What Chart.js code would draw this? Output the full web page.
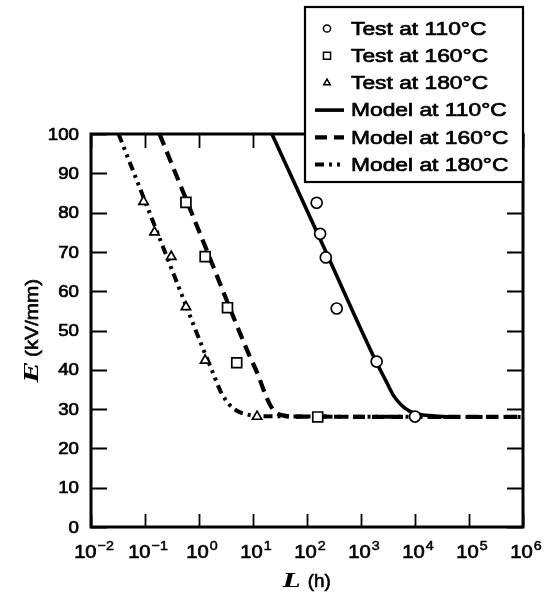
<!DOCTYPE html>
<html>
<head>
<meta charset="utf-8">
<script src="https://cdn.jsdelivr.net/npm/chart.js@4/dist/chart.umd.min.js"></script>
<style>
  html, body { margin: 0; padding: 0; background: #fff; }
  #wrap { width: 549px; height: 603px; }
</style>
</head>
<body>
<div id="wrap"><canvas id="chart" width="549" height="603"></canvas></div>
<script>
// tick values
const xTickExps = [-2, -1, 0, 1, 2, 3, 4, 5, 6];
const yTicks = [0, 10, 20, 30, 40, 50, 60, 70, 80, 90, 100];

// test data (L in h, E in kV/mm)
const lTest110 = [151, 175, 223, 355, 1950, 10000];
const eTest110 = [82.5, 74.6, 68.6, 55.6, 42.1, 28.1];
const lTest160 = [0.573, 1.30, 3.37, 5.0, 158];
const eTest160 = [82.6, 68.8, 55.8, 41.8, 28.0];
const lTest180 = [0.094, 0.150, 0.306, 0.573, 1.30, 11.9];
const eTest180 = [82.8, 75.0, 68.8, 56.0, 42.4, 28.1];

// model curves
const lModel110 = [22.4, 200, 1995, 2818, 3981, 5623, 7943, 12590, 25120, 40000];
const eModel110 = [100, 71.5, 41.5, 37.5, 33.5, 31.0, 29.5, 28.6, 28.2, 28.05];
const lModel160 = [0.186, 1.0, 7.94, 12.6, 16.6, 20.9, 26.3, 35.5, 63.1, 1000000];
const eModel160 = [100, 75.3, 44.7, 38.5, 34.0, 31.0, 29.2, 28.4, 28.1, 28.0];
const lModel180 = [0.0324, 0.2, 1.26, 1.78, 2.51, 3.55, 5.01, 7.94, 15.8, 1000000];
const eModel180 = [100, 72.4, 44.5, 39.5, 34.5, 31.3, 29.6, 28.6, 28.2, 28.0];

const labels = ['Test at 110°C', 'Test at 160°C', 'Test at 180°C',
  'Model at 110°C', 'Model at 160°C', 'Model at 180°C'];

const toXY = (xs, ys) => xs.map((x, i) => ({ x: x, y: ys[i] }));

const testSet = (label, xs, ys, style, r, lr) => ({
  label: label,
  data: toXY(xs, ys),
  showLine: false,
  pointStyle: style,
  pointRadius: r,
  pointBorderWidth: 1.7,
  pointBorderColor: '#000',
  pointBackgroundColor: '#fff',
  legendRadius: lr
});

const modelSet = (label, xs, ys, dash, w) => ({
  label: label,
  data: toXY(xs, ys),
  borderColor: '#000',
  borderWidth: w,
  borderDash: dash,
  borderCapStyle: 'butt',
  pointRadius: 0,
  cubicInterpolationMode: 'monotone',
  fill: false
});

// draws text stretched horizontally, with a thin stroke to thicken it
const drawText = (ctx, text, x, y, font, sx, align, heavy) => {
  ctx.save();
  ctx.font = font;
  ctx.translate(x, y);
  ctx.scale(sx, 1);
  ctx.textAlign = align || 'left';
  ctx.fillText(text, 0, 0);
  if (heavy) {
    ctx.lineWidth = heavy;
    ctx.strokeStyle = '#000';
    ctx.strokeText(text, 0, 0);
  }
  ctx.restore();
};
const textWidth = (ctx, text, font, sx) => {
  ctx.save();
  ctx.font = font;
  const w = ctx.measureText(text).width * sx;
  ctx.restore();
  return w;
};

const SANS = '"Liberation Sans", Arial, sans-serif';
const SERIF = '"DejaVu Serif", "Liberation Serif", serif';

const framePlugin = {
  id: 'frame',
  afterDatasetsDraw(chart) {
    const ctx = chart.ctx;
    const a = chart.chartArea;
    const xs = chart.scales.x;
    const ys = chart.scales.y;
    ctx.save();
    ctx.fillStyle = '#000';
    ctx.strokeStyle = '#000';

    // inward ticks on all four sides
    ctx.lineWidth = 1.8;
    ctx.beginPath();
    xTickExps.forEach(e => {
      const px = Math.round(xs.getPixelForValue(Math.pow(10, e))) + 0.5;
      ctx.moveTo(px, a.bottom); ctx.lineTo(px, a.bottom - 13);
      ctx.moveTo(px, a.top); ctx.lineTo(px, a.top + 14);
    });
    yTicks.forEach(v => {
      const py = Math.round(ys.getPixelForValue(v)) + 0.5;
      ctx.moveTo(a.left, py); ctx.lineTo(a.left + 16, py);
      ctx.moveTo(a.right, py); ctx.lineTo(a.right - 16, py);
    });
    ctx.stroke();

    // plot frame
    ctx.lineWidth = 3;
    ctx.strokeRect(a.left, a.top, a.right - a.left, a.bottom - a.top);

    // y tick labels
    ctx.textBaseline = 'middle';
    yTicks.forEach(v => {
      drawText(ctx, String(v), 79, ys.getPixelForValue(v) + 1, '17px ' + SANS, 1.1, 'right', 0.7);
    });

    // x tick labels: 10 with superscript exponent
    ctx.textBaseline = 'alphabetic';
    const baseFont = '18px ' + SANS;
    const expFont = '13px ' + SANS;
    xTickExps.forEach(e => {
      const px = xs.getPixelForValue(Math.pow(10, e));
      const exp = e < 0 ? '\u2212' + Math.abs(e) : String(e);
      const w1 = textWidth(ctx, '10', baseFont, 1.12);
      const w2 = textWidth(ctx, exp, expFont, 1.1);
      const x0 = px - (w1 + 1 + w2) / 2 + 3;
      drawText(ctx, '10', x0, 558, baseFont, 1.12, 'left', 0.7);
      drawText(ctx, exp, x0 + w1 + 1, 550, expFont, 1.1, 'left', 0.5);
    });

    // x axis title: L (h)
    const cx = (a.left + a.right) / 2;
    const fL = 'bold italic 18px ' + SERIF;
    const fH = '18px ' + SANS;
    const wL = textWidth(ctx, 'L', fL, 1.4);
    const wH = textWidth(ctx, '(h)', fH, 1.05);
    const tx = cx - (wL + 7 + wH) / 2;
    drawText(ctx, 'L', tx, 587, fL, 1.4);
    drawText(ctx, '(h)', tx + wL + 7, 587, fH, 1.05, 'left', 0.6);

    // y axis title: E (kV/mm), rotated
    ctx.save();
    ctx.translate(38, (a.top + a.bottom) / 2);
    ctx.rotate(-Math.PI / 2);
    const fE = 'bold italic 18px ' + SERIF;
    const fK = '18px ' + SANS;
    const wE = textWidth(ctx, 'E', fE, 1.4);
    const wK = textWidth(ctx, '(kV/mm)', fK, 1.15);
    const ty = -(wE + 6 + wK) / 2;
    drawText(ctx, 'E', ty, 0, fE, 1.4);
    drawText(ctx, '(kV/mm)', ty + wE + 6, 0, fK, 1.15, 'left', 0.6);
    ctx.restore();

    // legend box
    const box = { x: 305, y: 7, w: 218, h: 175 };
    ctx.fillStyle = '#fff';
    ctx.fillRect(box.x, box.y, box.w, box.h);
    ctx.lineWidth = 2.2;
    ctx.strokeRect(box.x, box.y, box.w, box.h);
    ctx.textBaseline = 'middle';
    chart.data.datasets.forEach((ds, i) => {
      const ry = 28.5 + i * 27.2;
      ctx.fillStyle = '#000';
      if (ds.showLine === false) {
        ctx.save();
        ctx.fillStyle = '#fff';
        ctx.strokeStyle = '#000';
        ctx.lineWidth = 1.5;
        Chart.helpers.drawPoint(ctx, {
          pointStyle: ds.pointStyle, radius: ds.legendRadius, rotation: 0, borderWidth: 1.5
        }, 327, ry);
        ctx.restore();
      } else {
        ctx.save();
        ctx.lineWidth = ds.borderWidth;
        ctx.setLineDash(ds.borderDash || []);
        ctx.beginPath();
        ctx.moveTo(315, ry);
        ctx.lineTo(344, ry);
        ctx.stroke();
        ctx.restore();
      }
      drawText(ctx, ds.label, 351, ry + 1, '19px ' + SANS, 1.2, 'left', 0.7);
    });

    ctx.restore();
  }
};

new Chart(document.getElementById('chart'), {
  type: 'line',
  data: {
    datasets: [
      testSet(labels[0], lTest110, eTest110, 'circle', 5.5, 3.6),
      testSet(labels[1], lTest160, eTest160, 'rect', 7, 5),
      testSet(labels[2], lTest180, eTest180, 'triangle', 5.4, 3.8),
      modelSet(labels[3], lModel110, eModel110, [], 3.6),
      modelSet(labels[4], lModel160, eModel160, [12, 7], 4.2),
      modelSet(labels[5], lModel180, eModel180, [9, 5, 3, 5, 3, 5], 4.0)
    ]
  },
  options: {
    responsive: false,
    animation: false,
    events: [],
    layout: { padding: { left: 91, top: 134, right: 26, bottom: 76 } },
    plugins: {
      legend: { display: false },
      tooltip: { enabled: false }
    },
    scales: {
      x: { type: 'logarithmic', min: 0.01, max: 1000000, display: false },
      y: { type: 'linear', min: 0, max: 100, display: false }
    }
  },
  plugins: [framePlugin]
});
</script>
</body>
</html>
